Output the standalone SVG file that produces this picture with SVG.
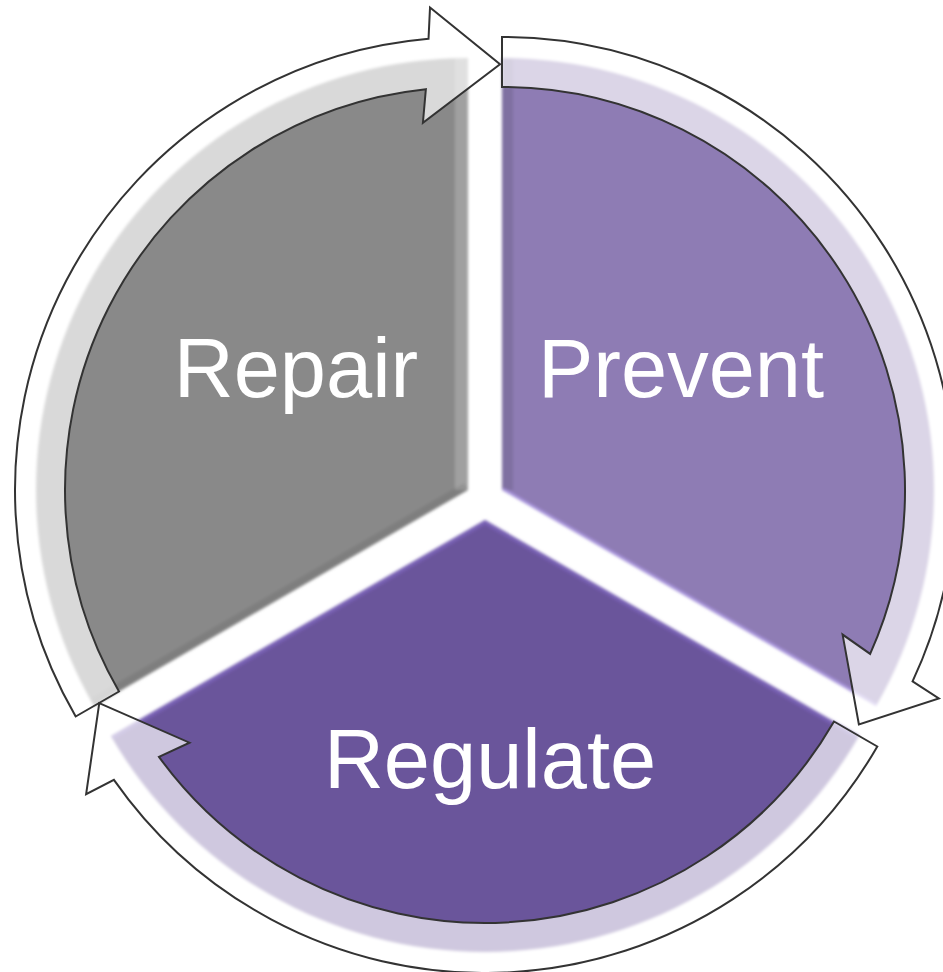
<svg xmlns="http://www.w3.org/2000/svg" width="943" height="972" viewBox="0 0 943 972">
<defs>
<style>
.lbl{font-family:"Liberation Sans","DejaVu Sans",sans-serif;font-size:83px;fill:#ffffff;text-anchor:middle}
.arrow{fill:#ffffff;fill-opacity:0.68;stroke:#333333;stroke-width:2;stroke-linejoin:miter}
</style>
<filter id="soft" x="-5%" y="-5%" width="110%" height="110%"><feGaussianBlur stdDeviation="1.5"/></filter>
<clipPath id="cRepair"><path d="M468,490 L93.9,706 A432,432 0 0 1 468,58 Z"/></clipPath>
<clipPath id="cPrevent"><path d="M502,490 L502,58 A432,432 0 0 1 876.1,706 Z"/></clipPath>
<clipPath id="cRegulate"><path d="M485,520 L859.1,736 A432,432 0 0 1 110.9,736 Z"/></clipPath>
</defs>
<rect width="943" height="972" fill="#ffffff"/>
<g id="repair" filter="url(#soft)">
<path d="M468,490 L93.9,706 A432,432 0 0 1 468,58 Z" fill="#898989"/>
<g clip-path="url(#cRepair)">
<line x1="468" y1="490" x2="468" y2="58" stroke="#ffffff" stroke-opacity="0.2" stroke-width="26"/>
<line x1="468" y1="490" x2="93.9" y2="706" stroke="#000000" stroke-opacity="0.08" stroke-width="16"/>
</g>
</g>
<g id="prevent" filter="url(#soft)">
<path d="M502,490 L502,58 A432,432 0 0 1 876.1,706 Z" fill="#8e7cb4"/>
<g clip-path="url(#cPrevent)">
<line x1="502" y1="490" x2="502" y2="58" stroke="#000000" stroke-opacity="0.1" stroke-width="22"/>
<line x1="502" y1="490" x2="876.1" y2="706" stroke="#b7a3f2" stroke-opacity="0.7" stroke-width="5"/>
</g>
</g>
<g id="regulate" filter="url(#soft)">
<path d="M485,520 L859.1,736 A432,432 0 0 1 110.9,736 Z" fill="#6a559b"/>
<g clip-path="url(#cRegulate)">
<path d="M110.9,736 L485,520 L859.1,736" fill="none" stroke="#8a70d2" stroke-opacity="0.45" stroke-width="8"/>
</g>
</g>
<g id="connectors">
<path class="arrow" d="M75.69,716.5 A453,453 0 0 1 428.52,38.73 L430.02,7.49 L500.02,64.2 L422.91,122.76 L425.87,89.21 A403,403 0 0 0 118.99,691.5 Z"/>
<path class="arrow" d="M502,37 A453,453 0 0 1 912.56,681.45 L938.85,698.37 L858.89,724.43 L842.59,634.57 L870.16,653.92 A403,403 0 0 0 502,87 Z"/>
<path class="arrow" d="M877.31,746.5 A453,453 0 0 1 113.92,779.83 L86.12,794.14 L99.27,703.16 L189.5,742.67 L158.97,756.88 A403,403 0 0 0 834.01,721.5 Z"/>
</g>
<g id="labels">
<text class="lbl" x="296" y="397">Repair</text>
<text class="lbl" x="681" y="397">Prevent</text>
<text class="lbl" x="490" y="788">Regulate</text>
</g>
</svg>
